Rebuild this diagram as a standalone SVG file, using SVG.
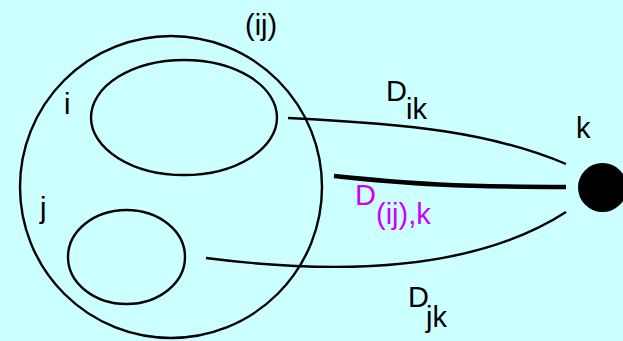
<svg xmlns="http://www.w3.org/2000/svg" width="623" height="341" viewBox="0 0 623 341">
<style>
.t{font-family:"Liberation Sans",Arial,sans-serif;font-size:29px;fill:#000}
.m{fill:#cc00ff}
.o{fill:none;stroke:#000;stroke-width:2.4}
.c{fill:none;stroke:#000;stroke-width:2.4}
</style>
<rect width="623" height="341" fill="#ccffff"/>
<g id="ij">
<ellipse class="o" cx="171" cy="187" rx="151" ry="151"/>
<text class="t" x="245" y="35">(ij)</text>
</g>
<g id="i">
<ellipse class="o" cx="184" cy="117.5" rx="93" ry="57.5"/>
<text class="t" x="64" y="114">i</text>
</g>
<g id="j">
<ellipse class="o" cx="126.5" cy="257" rx="58.5" ry="47"/>
<text class="t" x="40" y="218">j</text>
</g>
<g id="k">
<circle cx="602.5" cy="187.5" r="24.5" fill="#000"/>
<text class="t" x="576" y="138">k</text>
</g>
<g id="connectors">
<path class="c" d="M288,118 C410,124 490,132 566,164"/>
<path fill="none" stroke="#000" stroke-width="4.5" d="M334,176 C410,184 460,187 566,187"/>
<path class="c" d="M206,258 C330,274 470,274 566,212"/>
<text class="t" x="386" y="101">D<tspan x="406" y="119">ik</tspan></text>
<text class="t m" x="355" y="205">D<tspan x="376" y="224">(ij),k</tspan></text>
<text class="t" x="408" y="307">D<tspan x="426" y="327">jk</tspan></text>
</g>
</svg>
